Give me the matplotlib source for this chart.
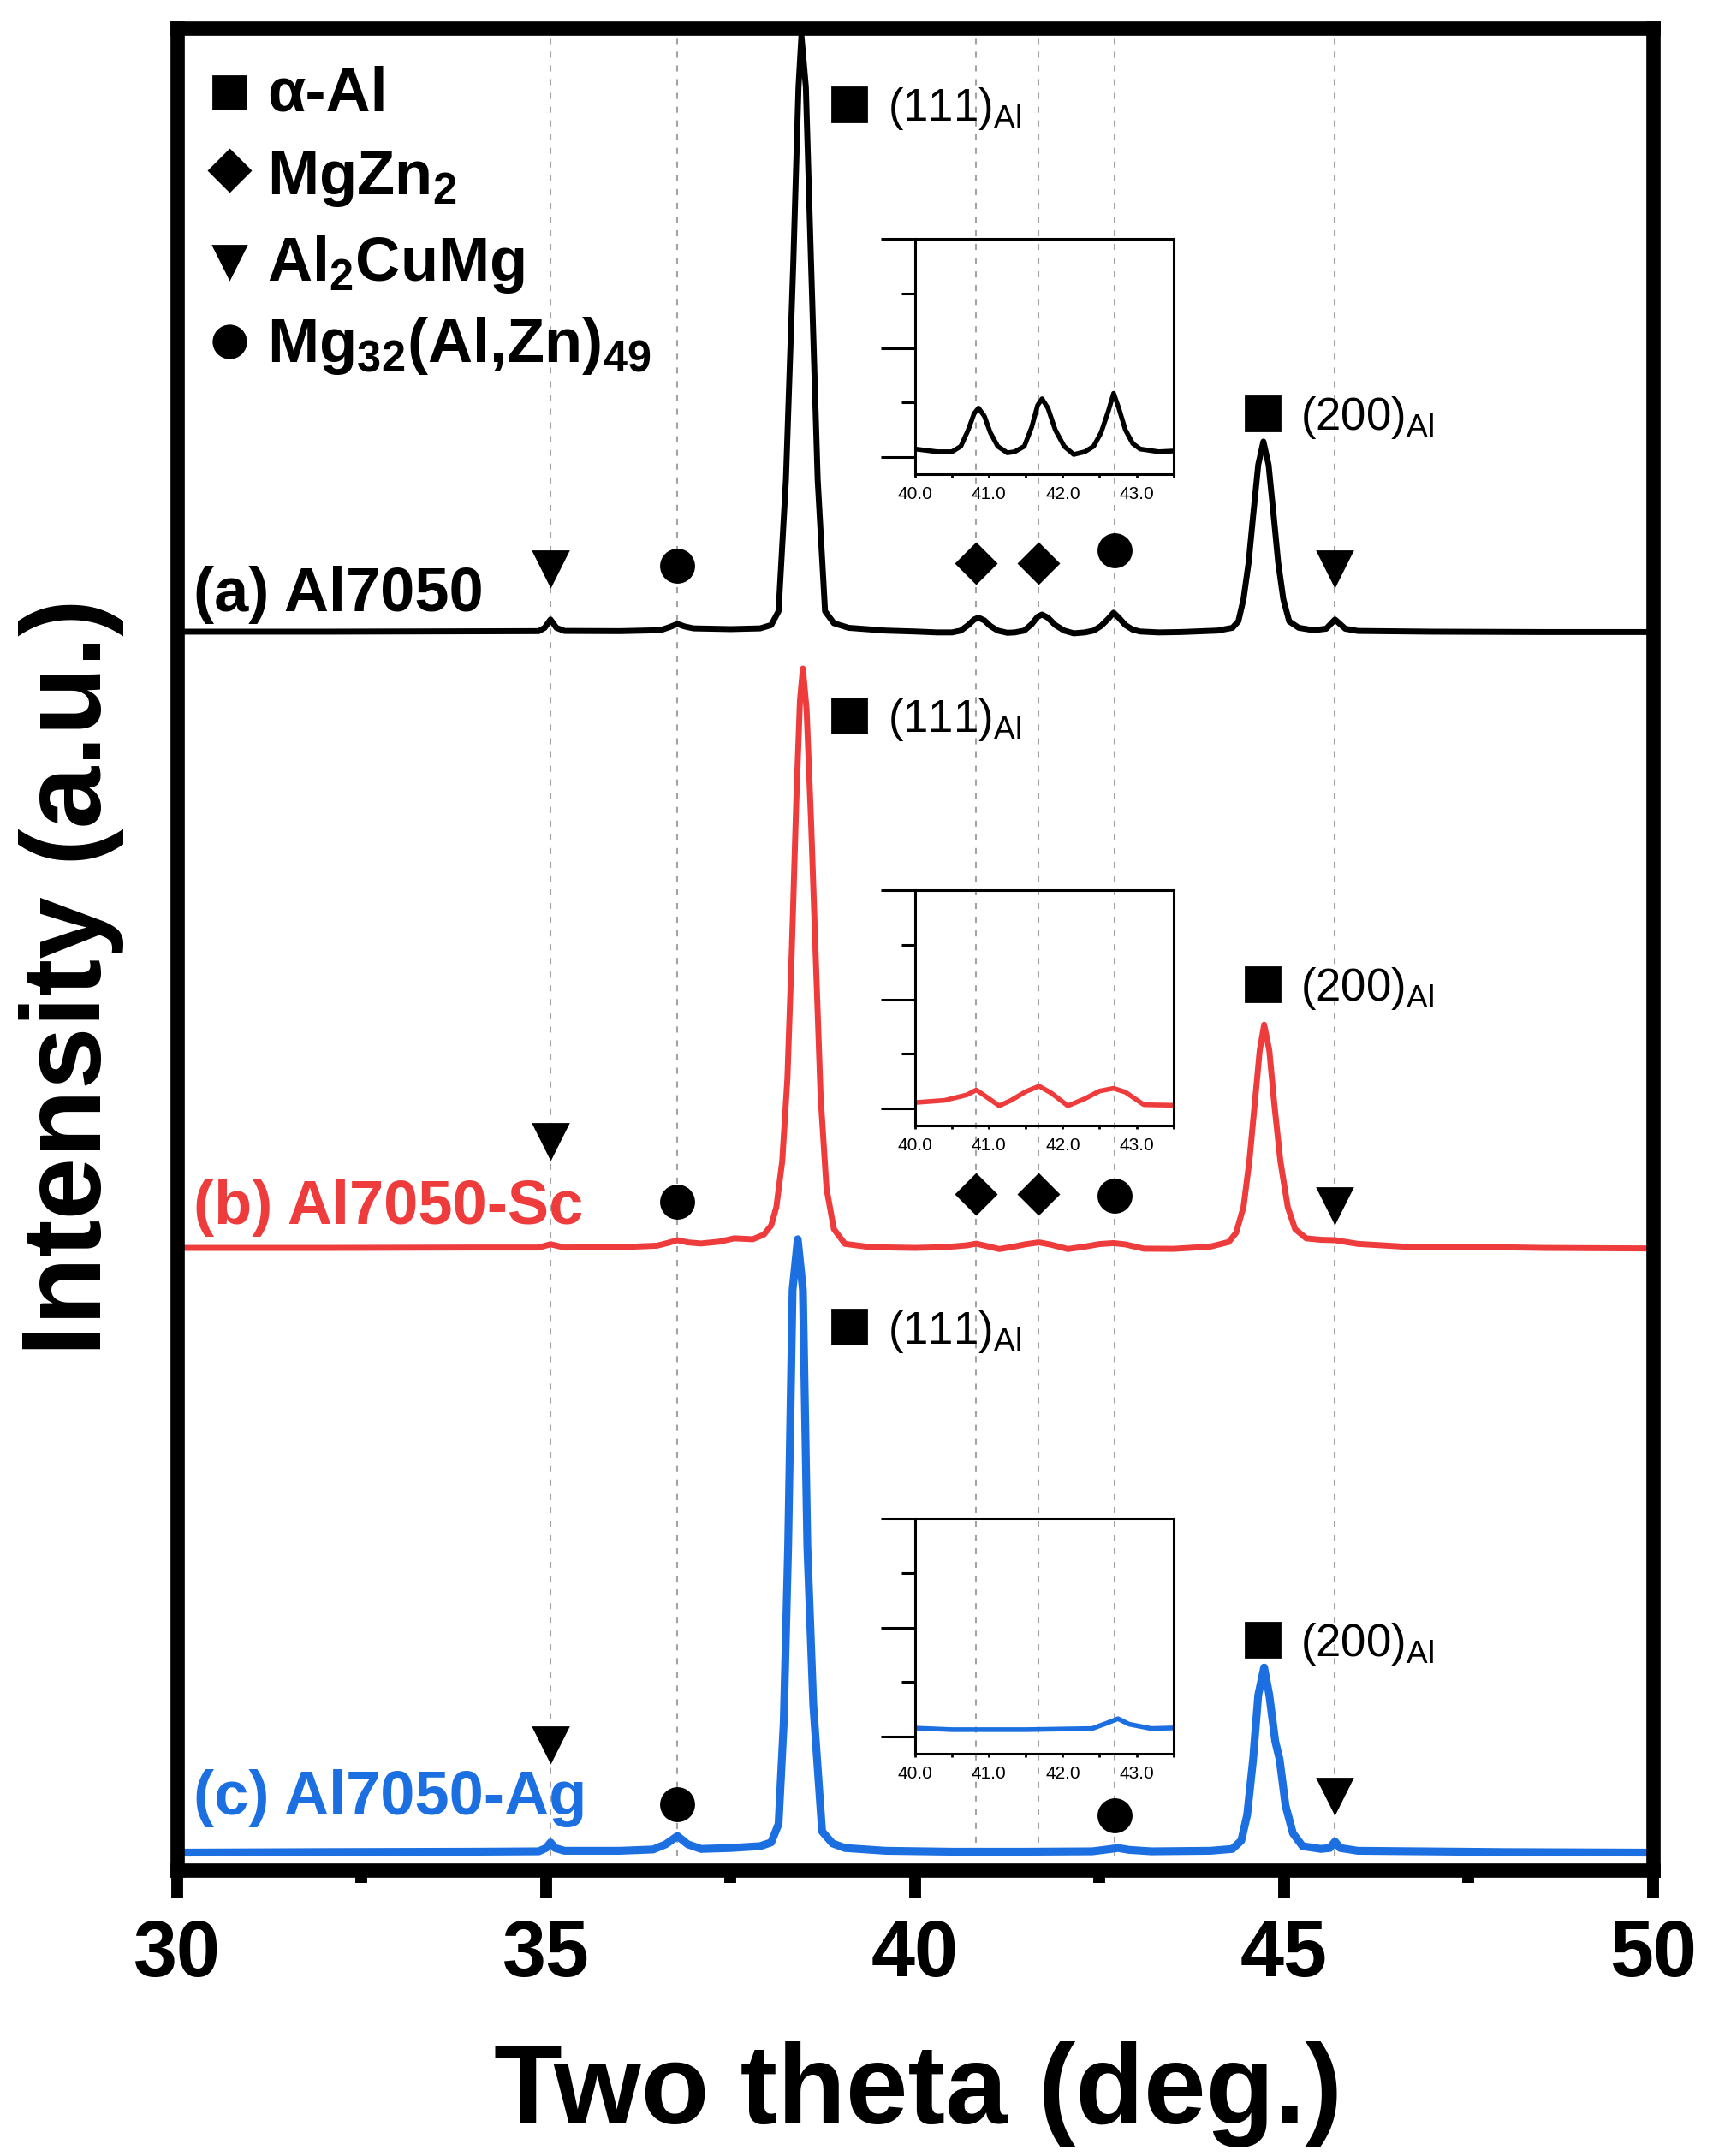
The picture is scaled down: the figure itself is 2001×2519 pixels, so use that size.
import matplotlib
matplotlib.use('Agg')
import matplotlib.pyplot as plt
from matplotlib.ticker import MultipleLocator, FixedLocator, NullLocator

plt.rcParams['font.family'] = ['Liberation Sans', 'DejaVu Sans']
plt.rcParams['mathtext.fontset'] = 'custom'
plt.rcParams['mathtext.rm'] = 'Liberation Sans'
plt.rcParams['mathtext.it'] = 'Liberation Sans:italic'
plt.rcParams['mathtext.bf'] = 'Liberation Sans:bold'

# ---- data (two theta in deg, intensity in a.u. with offsets) ----
TT_A = [30.0, 32.0, 34.0, 34.9, 34.98, 35.06, 35.14, 35.25, 36.0, 36.55, 36.68, 36.78,
        36.88, 37.0, 37.5, 37.9, 38.05, 38.15, 38.25, 38.35, 38.42, 38.46, 38.52, 38.59,
        38.68, 38.78, 38.9, 39.1, 39.6, 40.0, 40.3, 40.5, 40.62, 40.72, 40.8, 40.86,
        40.94, 41.02, 41.12, 41.25, 41.35, 41.48, 41.58, 41.66, 41.72, 41.8, 41.9, 42.02,
        42.15, 42.3, 42.42, 42.52, 42.62, 42.69, 42.76, 42.85, 42.95, 43.05, 43.3, 43.6,
        44.1, 44.3, 44.38, 44.45, 44.52, 44.58, 44.65, 44.72, 44.79, 44.86, 44.92, 44.99,
        45.07, 45.2, 45.4, 45.57, 45.69, 45.83, 46.0, 47.0, 48.5, 50.0]
INT_A = [67.24, 67.24, 67.26, 67.27, 67.45, 67.9, 67.45, 67.28, 67.27, 67.32, 67.5, 67.66,
         67.52, 67.42, 67.38, 67.42, 67.6, 68.35, 75.5, 87.3, 96.8, 99.6, 96.8, 87.3,
         75.5, 68.35, 67.7, 67.45, 67.3, 67.25, 67.2, 67.2, 67.3, 67.6, 67.9, 68.0,
         67.85, 67.55, 67.3, 67.18, 67.2, 67.3, 67.65, 68.05, 68.17, 68.0, 67.6, 67.3,
         67.15, 67.2, 67.3, 67.55, 67.95, 68.27, 68.0, 67.6, 67.35, 67.25, 67.2, 67.22,
         67.3, 67.45, 67.8, 69.0, 71.0, 73.5, 76.3, 77.56, 76.3, 73.5, 71.0, 69.0,
         67.8, 67.45, 67.32, 67.4, 67.9, 67.4, 67.28, 67.24, 67.22, 67.22]

TT_B = [30.0, 32.0, 34.0, 34.9, 35.06, 35.25, 36.0, 36.5, 36.65, 36.78, 36.92, 37.1,
        37.35, 37.55, 37.8, 37.95, 38.05, 38.12, 38.2, 38.27, 38.33, 38.39, 38.44, 38.48,
        38.53, 38.59, 38.65, 38.72, 38.8, 38.9, 39.05, 39.4, 40.0, 40.4, 40.7, 40.83,
        40.95, 41.14, 41.3, 41.5, 41.68, 41.85, 42.07, 42.3, 42.5, 42.69, 42.85, 43.1,
        43.5, 44.0, 44.25, 44.35, 44.45, 44.53, 44.6, 44.67, 44.73, 44.8, 44.87, 44.95,
        45.05, 45.15, 45.3, 45.5, 45.69, 46.0, 46.7, 47.4, 48.5, 50.0]
INT_B = [33.78, 33.78, 33.8, 33.8, 33.98, 33.8, 33.82, 33.9, 34.05, 34.2, 34.08, 34.02,
         34.12, 34.3, 34.25, 34.5, 35.0, 36.0, 38.5, 43.0, 50.0, 58.0, 63.5, 65.24,
         63.0, 57.0, 50.0, 42.0, 37.0, 34.8, 34.0, 33.82, 33.78, 33.82, 33.92, 34.01,
         33.9, 33.72, 33.82, 33.98, 34.08, 33.95, 33.72, 33.85, 33.99, 34.04, 33.97, 33.74,
         33.73, 33.85, 34.1, 34.6, 36.0, 38.5, 41.5, 44.5, 45.9, 44.5, 41.5, 38.5,
         36.0, 34.8, 34.3, 34.22, 34.2, 34.0, 33.83, 33.85, 33.78, 33.75]

TT_C = [30.0, 32.0, 34.0, 34.9, 35.0, 35.06, 35.12, 35.25, 36.0, 36.45, 36.62, 36.78,
        36.92, 37.1, 37.5, 37.9, 38.05, 38.15, 38.22, 38.28, 38.34, 38.41, 38.48, 38.54,
        38.62, 38.74, 38.88, 39.05, 39.6, 40.5, 41.5, 42.4, 42.6, 42.75, 42.9, 43.2,
        44.0, 44.3, 44.42, 44.5, 44.58, 44.65, 44.73, 44.8, 44.88, 44.94, 45.02, 45.12,
        45.25, 45.5, 45.62, 45.69, 45.76, 46.0, 48.0, 50.0]
INT_C = [0.95, 0.98, 1.0, 1.02, 1.2, 1.5, 1.2, 1.05, 1.05, 1.12, 1.4, 1.85,
         1.4, 1.15, 1.2, 1.3, 1.5, 2.5, 8.0, 17.6, 31.5, 34.25, 31.5, 17.6,
         9.0, 2.1, 1.45, 1.2, 1.05, 1.0, 1.0, 1.02, 1.12, 1.2, 1.1, 1.02,
         1.05, 1.15, 1.6, 3.0, 6.0, 9.5, 11.0, 9.5, 7.0, 6.0, 3.5, 2.0,
         1.3, 1.15, 1.2, 1.55, 1.2, 1.05, 0.98, 0.95]

SAMPLES = ['(a) Al7050', '(b) Al7050-Sc', '(c) Al7050-Ag']
COLORS = ['black', '#EE3B3B', '#1B6FE0']

# phase reflections (deg) marked with dashed guide lines
PHASE_LINES = [35.06, 36.78, 40.82, 41.67, 42.70, 45.69]
PHASES = ['α-Al', r'MgZn$_{\mathbf{2}}$', r'Al$_{\mathbf{2}}$CuMg',
          r'Mg$_{\mathbf{32}}$(Al,Zn)$_{\mathbf{49}}$']
PHASE_MARKERS = ['s', 'D', 'v', 'o']

# ---- layout (marker / label placement) ----
MARK_A = [('v', 35.06, 70.7), ('o', 36.78, 70.8), ('D', 40.82, 70.95), ('D', 41.67, 70.95),
          ('o', 42.70, 71.65), ('v', 45.69, 70.7)]
MARK_B = [('v', 35.06, 39.6), ('o', 36.78, 36.3), ('D', 40.82, 36.7), ('D', 41.67, 36.7),
          ('o', 42.70, 36.6), ('v', 45.69, 36.1)]
MARK_C = [('v', 35.06, 6.83), ('o', 36.78, 3.6), ('o', 42.70, 2.95), ('v', 45.69, 4.04)]
MS = {'v': 14.4, 'o': 13.7, 'D': 11.7, 's': 14.4}
LABEL_Y = [68.35, 35.08, 3.02]
HKL_111_Y = [95.86, 62.7, 29.5]
HKL_200_Y = [79.1, 48.1, 12.5]
INSET_Y0 = [75.79, 40.43, 6.32]
INSET_ZERO = [67.1, 33.67, 0.87]

fig = plt.figure(figsize=(10.005, 12.595), dpi=200)
ax = fig.add_axes([0.1034, 0.1326, 0.8616, 0.8543])

series = [(TT_A, INT_A), (TT_B, INT_B), (TT_C, INT_C)]
widths = [2.5, 2.5, 3.3]

for x in PHASE_LINES:
    ax.axvline(x, color='#a3a3a3', lw=0.75, ls=(0, (3.4, 4.3)), zorder=0.5)

for (tt, inten), c, lw in zip(series, COLORS, widths):
    ax.plot(tt, inten, color=c, lw=lw, zorder=2, solid_joinstyle='round')

for marks in (MARK_A, MARK_B, MARK_C):
    for m, x, y in marks:
        ax.plot(x, y, marker=m, ms=MS[m], color='black', ls='none', zorder=3)

for name, c, y in zip(SAMPLES, COLORS, LABEL_Y):
    ax.text(30.22, y, name, color=c, fontsize=26, fontweight='bold',
            ha='left', va='baseline', zorder=4)

for y111, y200 in zip(HKL_111_Y, HKL_200_Y):
    ax.plot(39.11, y111, marker='s', ms=14.4, color='black', ls='none')
    ax.text(39.63, y111 - 0.9, r'(111)$_{\mathrm{Al}}$', fontsize=19,
            ha='left', va='baseline')
    ax.plot(44.71, y200, marker='s', ms=14.4, color='black', ls='none')
    ax.text(45.22, y200 - 0.9, r'(200)$_{\mathrm{Al}}$', fontsize=19,
            ha='left', va='baseline')

# legend of phases
leg_marker_y = [96.5, 92.3, 87.3, 83.0]
leg_text_y = [95.5, 91.0, 86.3, 81.9]
leg_ms = [13.7, 12.0, 14.0, 13.5]
for name, m, ym, yt, s in zip(PHASES, PHASE_MARKERS, leg_marker_y, leg_text_y, leg_ms):
    ax.plot(30.71, ym, marker=m, ms=s, color='black', ls='none')
    ax.text(31.22, yt, name, fontsize=26, fontweight='bold', ha='left', va='baseline')

ax.set_xlim(30, 50)
ax.set_ylim(0, 100)
ax.xaxis.set_major_locator(MultipleLocator(5))
ax.xaxis.set_minor_locator(MultipleLocator(2.5))
ax.yaxis.set_major_locator(NullLocator())
ax.tick_params(axis='x', which='major', direction='out', length=11.5, width=5,
               labelsize=33, pad=9)
ax.tick_params(axis='x', which='minor', direction='out', length=5.4, width=5)
for lab in ax.get_xticklabels():
    lab.set_fontweight('bold')
for sp in ax.spines.values():
    sp.set_linewidth(6)

ax.set_xlabel('Two theta (deg.)', fontsize=47, fontweight='bold')
ax.xaxis.set_label_coords(0.502, -0.093)
ax.set_ylabel('Intensity (a.u.)', fontsize=47, fontweight='bold')
ax.yaxis.set_label_coords(-0.036, 0.485)

# insets: zoom on 40-43.5 deg
for (tt, inten), c, y0, z in zip(series, COLORS, INSET_Y0, INSET_ZERO):
    ins = ax.inset_axes([40.0, y0, 3.5, 12.78], transform=ax.transData)
    ins.patch.set_alpha(0)
    ins.plot(tt, inten, color=c, lw=2.0, solid_joinstyle='round')
    ins.set_xlim(40.0, 43.5)
    ins.set_ylim(z - 0.31, z + 4.0)
    ins.xaxis.set_major_locator(FixedLocator([40, 41, 42, 43]))
    ins.xaxis.set_minor_locator(FixedLocator([40.5, 41.5, 42.5, 43.5]))
    ins.set_xticklabels(['40.0', '41.0', '42.0', '43.0'])
    ins.yaxis.set_major_locator(FixedLocator([z, z + 2, z + 4]))
    ins.yaxis.set_minor_locator(FixedLocator([z + 1, z + 3]))
    ins.set_yticklabels([])
    ins.tick_params(axis='x', which='both', direction='out', length=1.5, width=1.0,
                    labelsize=7.5, pad=3.5)
    ins.tick_params(axis='y', which='major', direction='out', length=14.4, width=1.1)
    ins.tick_params(axis='y', which='minor', direction='out', length=5.8, width=1.1)
    for sp in ins.spines.values():
        sp.set_linewidth(1.1)

fig.savefig('out.png', dpi=200)
